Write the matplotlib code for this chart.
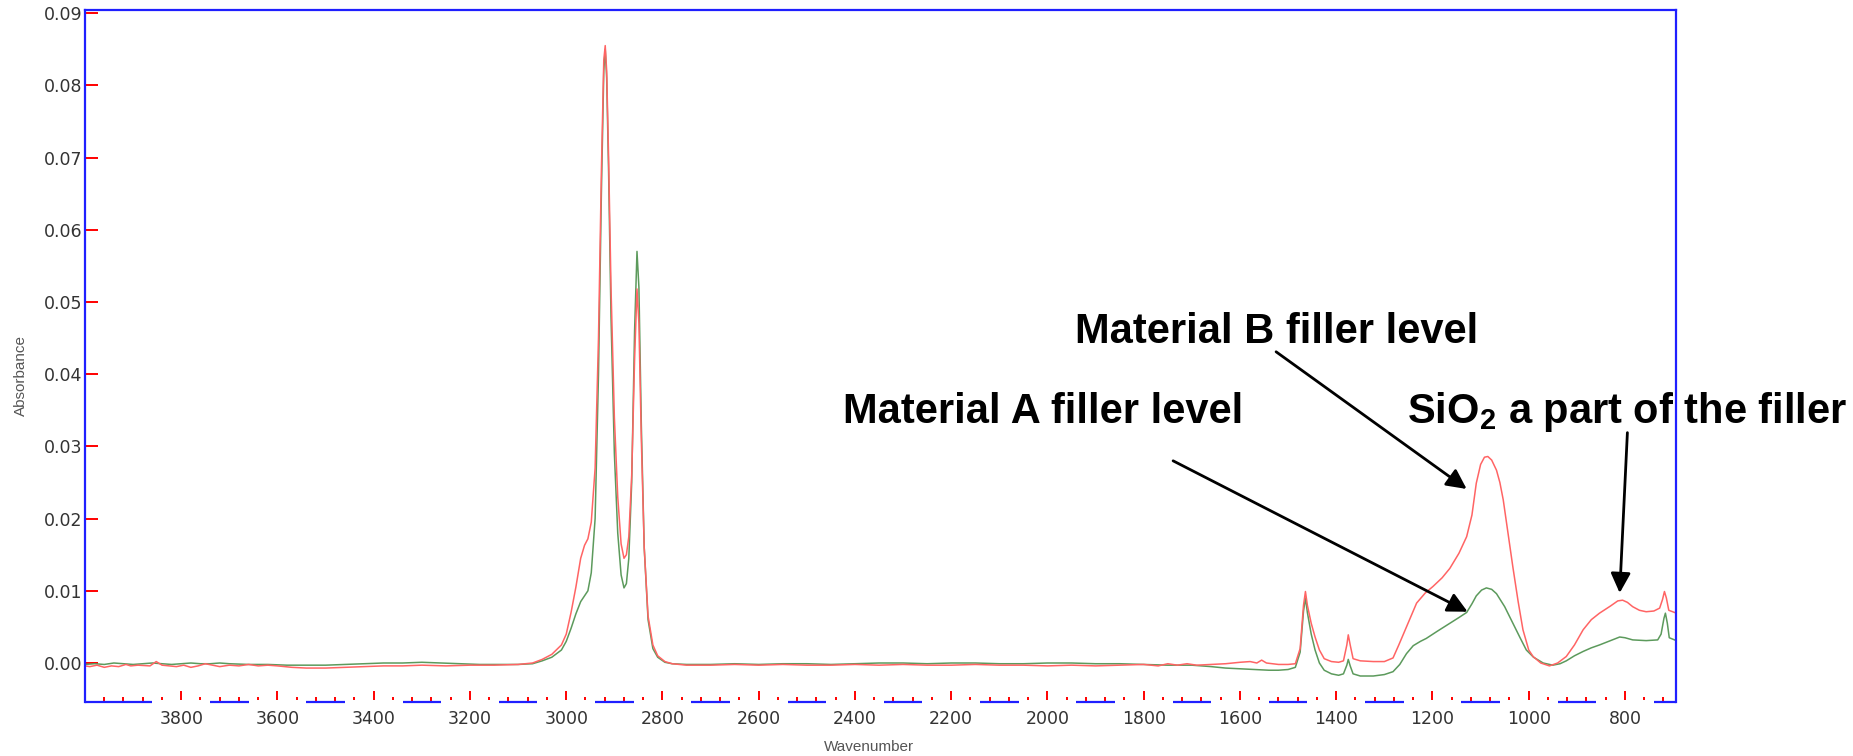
import numpy as np
import matplotlib.pyplot as plt
import matplotlib.transforms as mtransforms
from matplotlib.patches import Rectangle

plt.rcParams['mathtext.fontset'] = 'custom'
plt.rcParams['mathtext.rm'] = 'Liberation Sans'
plt.rcParams['mathtext.bf'] = 'Liberation Sans:bold'

# Material B spectrum (red)
wn_b = [4000, 3990, 3975, 3960, 3945, 3930, 3915, 3905, 3890, 3865, 3852, 3840, 3825, 3810,
        3795, 3780, 3765, 3750, 3735, 3720, 3700, 3680, 3660, 3640, 3620, 3600, 3570, 3540,
        3500, 3460, 3420, 3380, 3340, 3300, 3250, 3200, 3150, 3100, 3070, 3050, 3030, 3010,
        3000, 2990, 2980, 2970, 2962, 2955, 2948, 2940, 2933, 2927, 2922, 2919, 2916, 2912,
        2907, 2900, 2893, 2886, 2880, 2875, 2870, 2864, 2858, 2853, 2849, 2844, 2838, 2830,
        2820, 2810, 2795, 2780, 2750, 2700, 2650, 2600, 2550, 2500, 2450, 2400, 2350, 2300,
        2250, 2200, 2150, 2100, 2050, 2000, 1950, 1900, 1850, 1800, 1770, 1750, 1730, 1710,
        1690, 1660, 1630, 1600, 1579, 1565, 1555, 1545, 1520, 1500, 1485, 1475, 1468, 1464,
        1460, 1452, 1444, 1435, 1425, 1410, 1395, 1385, 1378, 1375, 1371, 1365, 1350, 1323,
        1300, 1282, 1270, 1254, 1233, 1215, 1199, 1180, 1164, 1145, 1129, 1118, 1109, 1100,
        1092, 1085, 1077, 1067, 1060, 1053, 1043, 1033, 1022, 1012, 1000, 991, 975, 957,
        940, 922, 905, 887, 870, 853, 830, 815, 805, 795, 784, 770, 756, 740, 728, 722,
        718, 714, 709, 697]
abs_b = [-0.0004, -0.0005, -0.0003, -0.0006, -0.0004, -0.0005, -0.0002, -0.0004, -0.0003,
         -0.0004, 0.0002, -0.0003, -0.0004, -0.0005, -0.0003, -0.0006, -0.0004, -0.0001,
         -0.0003, -0.0005, -0.0003, -0.0004, -0.0002, -0.0004, -0.0003, -0.0004, -0.0006,
         -0.0007, -0.0007, -0.0006, -0.0005, -0.0004, -0.0004, -0.0003, -0.0004, -0.0003,
         -0.0003, -0.0002, 0.0, 0.0005, 0.0012, 0.0025, 0.004, 0.007, 0.0105, 0.0145,
         0.0163, 0.0172, 0.0195, 0.027, 0.045, 0.068, 0.0835, 0.0855, 0.082, 0.070, 0.052,
         0.034, 0.023, 0.0165, 0.0145, 0.0150, 0.0175, 0.026, 0.042, 0.0518, 0.047, 0.031,
         0.016, 0.0065, 0.0025, 0.0010, 0.0002, -0.0001, -0.0003, -0.0003, -0.0002, -0.0003,
         -0.0002, -0.0003, -0.0003, -0.0002, -0.0003, -0.0002, -0.0003, -0.0003, -0.0002,
         -0.0003, -0.0003, -0.0004, -0.0003, -0.0004, -0.0003, -0.0002, -0.0004, -0.0001,
         -0.0003, -0.0001, -0.0003, -0.0002, -0.0001, 0.0001, 0.0002, 0.0, 0.0004, 0.0,
         -0.0002, -0.0002, -0.0001, 0.002, 0.008, 0.0099, 0.008, 0.0055, 0.0036, 0.0018,
         0.0006, 0.0002, 0.0001, 0.0003, 0.0025, 0.0039, 0.0025, 0.0006, 0.0003, 0.0002,
         0.0002, 0.0007, 0.0025, 0.005, 0.0083, 0.0097, 0.0106, 0.0118, 0.0131, 0.0152,
         0.0175, 0.0205, 0.0249, 0.0275, 0.0285, 0.0286, 0.0281, 0.0267, 0.0250, 0.0226,
         0.0180, 0.0133, 0.0085, 0.0046, 0.0018, 0.0009, 0.0, -0.0004, 0.0, 0.0009, 0.0025,
         0.0046, 0.0060, 0.0069, 0.0079, 0.0086, 0.0087, 0.0084, 0.0078, 0.0073, 0.0071,
         0.0072, 0.0076, 0.0088, 0.0099, 0.0090, 0.0073, 0.0070]

# Material A spectrum (green)
wn_a = [4000, 3980, 3960, 3940, 3920, 3900, 3880, 3860, 3840, 3820, 3800, 3780, 3760, 3740,
        3720, 3700, 3660, 3620, 3580, 3540, 3500, 3460, 3420, 3380, 3340, 3300, 3260, 3220,
        3180, 3140, 3100, 3070, 3050, 3030, 3010, 3000, 2990, 2980, 2970, 2962, 2955, 2948,
        2940, 2933, 2927, 2922, 2919, 2916, 2912, 2907, 2900, 2893, 2886, 2880, 2875, 2870,
        2864, 2858, 2853, 2849, 2844, 2838, 2830, 2820, 2810, 2795, 2780, 2750, 2700, 2650,
        2600, 2550, 2500, 2450, 2400, 2350, 2300, 2250, 2200, 2150, 2100, 2050, 2000, 1950,
        1900, 1850, 1800, 1750, 1700, 1660, 1630, 1600, 1570, 1540, 1520, 1500, 1485, 1475,
        1468, 1464, 1460, 1452, 1444, 1435, 1425, 1410, 1395, 1385, 1378, 1375, 1371, 1365,
        1350, 1323, 1300, 1282, 1268, 1254, 1240, 1225, 1213, 1190, 1164, 1145, 1129, 1118,
        1109, 1098, 1088, 1077, 1067, 1050, 1033, 1018, 1005, 990, 970, 950, 935, 922, 905,
        887, 870, 853, 830, 811, 800, 784, 756, 732, 725, 719, 716, 712, 708, 697]
abs_a = [-0.0002, -0.0001, -0.0002, 0.0, -0.0001, -0.0002, -0.0001, 0.0, -0.0001, -0.0002,
         -0.0001, 0.0, -0.0001, -0.0001, 0.0, -0.0001, -0.0002, -0.0002, -0.0003, -0.0003,
         -0.0003, -0.0002, -0.0001, 0.0, 0.0, 0.0001, 0.0, -0.0001, -0.0002, -0.0002,
         -0.0002, -0.0001, 0.0003, 0.0008, 0.0018, 0.003, 0.0048, 0.0068, 0.0085, 0.0093,
         0.0100, 0.0125, 0.020, 0.040, 0.065, 0.082, 0.085, 0.081, 0.068, 0.048, 0.029,
         0.018, 0.0122, 0.0104, 0.0110, 0.0145, 0.025, 0.046, 0.0570, 0.052, 0.033, 0.016,
         0.006, 0.002, 0.0008, 0.0001, -0.0001, -0.0002, -0.0002, -0.0001, -0.0002, -0.0001,
         -0.0001, -0.0002, -0.0001, 0.0, 0.0, -0.0001, 0.0, 0.0, -0.0001, -0.0001, 0.0, 0.0,
         -0.0001, -0.0001, -0.0002, -0.0003, -0.0003, -0.0005, -0.0007, -0.0008, -0.0009,
         -0.0010, -0.0010, -0.0009, -0.0006, 0.0015, 0.0072, 0.0090, 0.0070, 0.0040, 0.0018,
         0.0, -0.0010, -0.0015, -0.0017, -0.0015, -0.0003, 0.0005, -0.0004, -0.0015, -0.0018,
         -0.0018, -0.0016, -0.0012, -0.0002, 0.0013, 0.0024, 0.0030, 0.0034, 0.0044, 0.0055,
         0.0063, 0.0070, 0.0082, 0.0093, 0.0101, 0.0104, 0.0102, 0.0096, 0.0078, 0.0055,
         0.0035, 0.0018, 0.0008, 0.0, -0.0003, -0.0001, 0.0003, 0.0010, 0.0016, 0.0021,
         0.0025, 0.0031, 0.0036, 0.0035, 0.0032, 0.0031, 0.0032, 0.0040, 0.0062, 0.0069,
         0.0055, 0.0035, 0.0032]

x_major = np.arange(800, 3801, 200)
x_minor = np.arange(720, 4001, 40)
y_major = np.arange(0, 0.0901, 0.01)

blue = '#1f1fff'

fig = plt.figure(figsize=(18.53, 7.56), dpi=100)
ax = fig.add_axes([85 / 1853, 54 / 756, 1591 / 1853, 692.5 / 756])

ax.plot(wn_a, abs_a, color='#5c9a5c', lw=1.1)
ax.plot(wn_b, abs_b, color='#ff6464', lw=1.1)

ax.set_xlim(4000, 694)
ax.set_ylim(-0.0054, 0.0905)

for side in ['top', 'left', 'right']:
    ax.spines[side].set_color(blue)
    ax.spines[side].set_linewidth(1.6)
ax.spines['bottom'].set_visible(False)

# bottom axis line is broken around each labelled tick
trans = mtransforms.blended_transform_factory(ax.transData, ax.transAxes)
gap = 60
edges = [4000]
for m in x_major[::-1]:
    edges += [m + gap, m - gap]
edges.append(694)
for x0, x1 in zip(edges[0::2], edges[1::2]):
    ax.plot([x0, x1], [0, 0], transform=trans, color=blue, lw=1.6,
            solid_capstyle='butt', clip_on=False, zorder=3)
for m in x_major:
    ax.add_patch(Rectangle((m - gap, -0.009), 2 * gap, 0.0115, transform=trans,
                           facecolor='white', edgecolor='none', clip_on=False, zorder=3))

ax.set_xticks(x_major)
ax.set_xticks(x_minor, minor=True)
ax.set_yticks(y_major)
ax.set_yticklabels([f'{v:.2f}' for v in y_major])

ax.tick_params(axis='both', which='both', direction='in', color='red', labelcolor='#333333')
ax.tick_params(axis='x', which='major', length=8, width=1.4, pad=6, labelsize=12.5)
ax.tick_params(axis='x', which='minor', length=3.3, width=1.4)
ax.tick_params(axis='y', which='major', length=9.5, width=1.4, pad=2, labelsize=12.5)

ax.set_xlabel('Wavenumber', fontsize=11, color='#555555', family='Liberation Sans')
ax.set_ylabel('Absorbance', fontsize=11, color='#555555', family='Liberation Sans')
ax.xaxis.set_label_coords(0.4928, -0.055)
ax.yaxis.set_label_coords(-0.0358, 0.471)

txt = dict(fontsize=30, fontweight='bold', family='Liberation Sans', color='black',
           ha='left', va='baseline')
fig.text(1075 / 1853, 1 - 343 / 756, 'Material B filler level', **txt)
fig.text(843 / 1853, 1 - 423 / 756, 'Material A filler level', **txt)
fig.text(1407 / 1853, 1 - 423 / 756, r'SiO$_\mathbf{2}$ a part of the filler', **txt)

arrow = dict(arrowstyle='-|>,head_length=0.4,head_width=0.2', color='black', lw=2,
             mutation_scale=30, shrinkA=0, shrinkB=0)
ax.annotate('', xy=(1129, 0.0241), xytext=(1525, 0.0431), arrowprops=arrow, annotation_clip=False)
ax.annotate('', xy=(1127, 0.0071), xytext=(1739, 0.0280), arrowprops=arrow, annotation_clip=False)
ax.annotate('', xy=(811, 0.0097), xytext=(795, 0.0319), arrowprops=arrow, annotation_clip=False)

fig.savefig('out.png', dpi=100)
